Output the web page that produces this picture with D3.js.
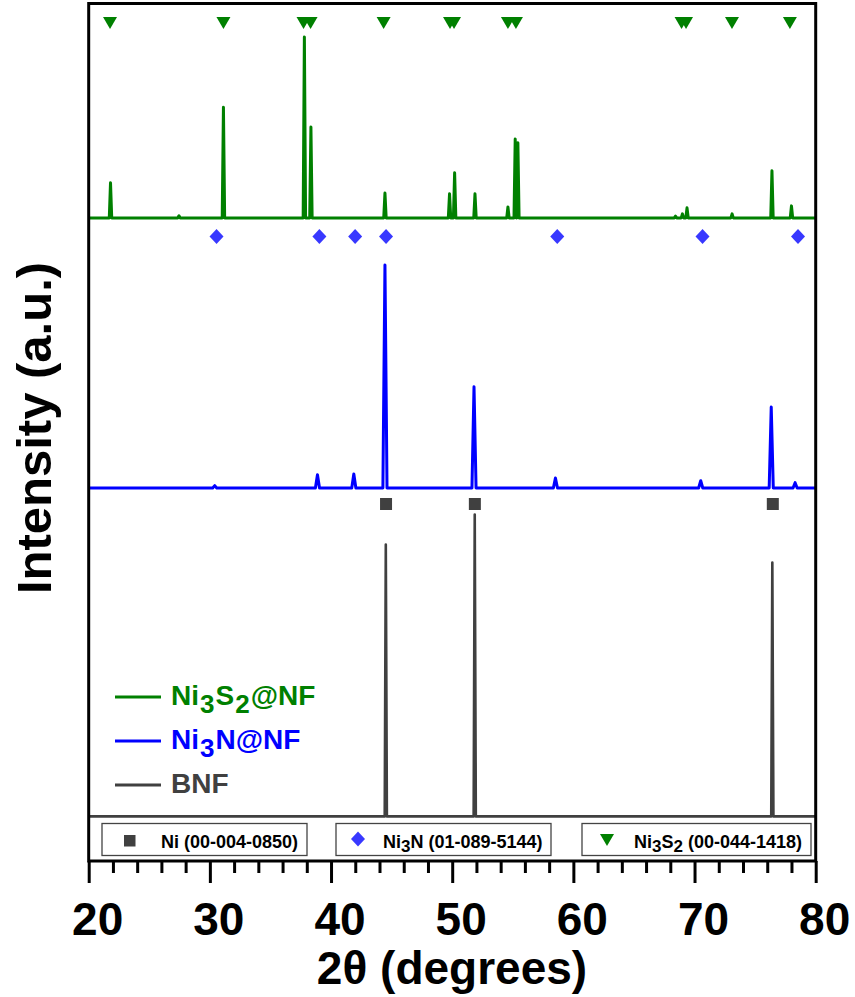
<!DOCTYPE html>
<html>
<head>
<meta charset="utf-8">
<script src="https://cdn.jsdelivr.net/npm/d3@7"></script>
<style>
  body { margin: 0; background: #fff; }
  text { font-family: "Liberation Sans", Arial, Helvetica, sans-serif; font-weight: bold; }
</style>
</head>
<body>
<div id="chart"></div>
<script>
// peak lists: [2theta, intensity above own baseline]
const bnfPeaks = [[44.52, 317], [51.86, 352], [76.42, 296]];
const ni3nPeaks = [
  [30.4, 2.7], [38.88, 15.5], [41.88, 16.3], [44.45, 260], [51.8, 118],
  [58.52, 11.7], [70.51, 8.5], [76.33, 94.5], [78.3, 6.2]
];
const ni3s2Peaks = [
  [21.8, 41], [27.45, 2.3], [31.12, 129], [37.8, 211], [38.34, 106],
  [44.45, 29], [49.78, 28], [50.2, 52.5], [51.88, 28], [54.6, 12.8],
  [55.2, 92], [55.42, 87.5], [68.43, 2], [69.0, 4.7], [69.38, 11.7],
  [73.1, 4.7], [76.39, 55], [78.0, 14]
];
// vertical offsets of the stacked patterns
const offsets = { bnf: 52, ni3n: 435, ni3s2: 750 };

// reference card positions
const niRef = [44.54, 51.87, 76.46];
const ni3nRef = [30.55, 39.04, 41.99, 44.54, 58.67, 70.66, 78.54];
const ni3s2Ref = [21.76, 31.12, 37.73, 38.31, 44.34, 49.82, 50.15, 54.6, 55.26, 68.93, 69.3, 73.09, 77.87];

const xTicks = [20, 30, 40, 50, 60, 70, 80];

var W = 855, H = 997;
var svg = d3.select("#chart").append("svg").attr("width", W).attr("height", H);

var x = d3.scaleLinear().domain([20, 80]).range([88.7, 815.7]);
var y = d3.scaleLinear().domain([0, 1000]).range([861, 3.5]);

// turn a peak list into a polyline (baseline -> top -> baseline per peak)
const profile = (peaks, base, hw) => {
  var pts = [[20, base]];
  peaks.forEach(function (p) {
    pts.push([p[0] - hw, base], [p[0], base + p[1]], [p[0] + hw, base]);
  });
  pts.push([80, base]);
  return pts;
};

var line = d3.line().x((d) => x(d[0])).y((d) => y(d[1]));

var series = [
  { name: "bnf", peaks: bnfPeaks, color: "#404040", width: 2.6, hw: 0.09 },
  { name: "ni3n", peaks: ni3nPeaks, color: "#0000ff", width: 3, hw: 0.17 },
  { name: "ni3s2", peaks: ni3s2Peaks, color: "#008000", width: 3, hw: 0.1 }
];

series.forEach(function (s) {
  svg.append("path")
    .datum(profile(s.peaks, offsets[s.name], s.hw))
    .attr("fill", "none")
    .attr("stroke", s.color)
    .attr("stroke-width", s.width)
    .attr("stroke-linejoin", "round")
    .attr("d", line);
});

// reference markers
svg.append("g").selectAll("rect")
  .data(niRef).enter().append("rect")
  .attr("x", (d) => x(d) - 6).attr("y", 498)
  .attr("width", 12).attr("height", 12)
  .attr("fill", "#404040");

var diamond = "M0,-7.5L7,0L0,7.5L-7,0Z";
svg.append("g").selectAll("path")
  .data(ni3nRef).enter().append("path")
  .attr("d", diamond)
  .attr("transform", (d) => "translate(" + x(d) + ",236.5)")
  .attr("fill", "#3838ff");

var triDown = "M-7,-6L7,-6L0,6Z";
svg.append("g").selectAll("path")
  .data(ni3s2Ref).enter().append("path")
  .attr("d", triDown)
  .attr("transform", (d) => "translate(" + x(d) + ",23)")
  .attr("fill", "#008000");

// x axis: major and minor ticks
var axisG = svg.append("g").attr("transform", "translate(0,861)");
axisG.append("g")
  .call(d3.axisBottom(x).tickValues(xTicks).tickSize(22).tickFormat(""))
  .call((g) => g.select(".domain").remove())
  .selectAll("line").attr("stroke", "#000").attr("stroke-width", 3);
axisG.append("g")
  .call(d3.axisBottom(x)
    .tickValues(d3.range(22, 80, 2).filter((v) => v % 10 != 0))
    .tickSize(12).tickFormat(""))
  .call((g) => g.select(".domain").remove())
  .selectAll("line").attr("stroke", "#000").attr("stroke-width", 3);

svg.append("g").selectAll("text")
  .data(xTicks).enter().append("text")
  .attr("x", (d) => x(d) + 9)
  .attr("y", 935)
  .attr("text-anchor", "middle")
  .attr("font-size", 46)
  .attr("fill", "#000")
  .text((d) => d);

svg.append("text")
  .attr("x", 452).attr("y", 984)
  .attr("text-anchor", "middle")
  .attr("font-size", 46)
  .text("2\u03b8 (degrees)");

svg.append("text")
  .attr("transform", "translate(51,428) rotate(-90)")
  .attr("text-anchor", "middle")
  .attr("font-size", 49)
  .text("Intensity (a.u.)");

// sample legend
var legend = [
  { parts: [["Ni", 0], ["3", 1], ["S", 0], ["2", 1], ["@NF", 0]], color: "#008000", base: 705 },
  { parts: [["Ni", 0], ["3", 1], ["N@NF", 0]], color: "#0000ff", base: 749 },
  { parts: [["BNF", 0]], color: "#404040", base: 793 }
];
legend.forEach(function (l) {
  svg.append("line")
    .attr("x1", 115).attr("x2", 161)
    .attr("y1", l.base - 8).attr("y2", l.base - 8)
    .attr("stroke", l.color).attr("stroke-width", 3);
  var t = svg.append("text").attr("x", 171).attr("y", l.base)
    .attr("font-size", 28).attr("fill", l.color);
  l.parts.forEach(function (p, i) {
    var sp = t.append("tspan").text(p[0]);
    if (p[1]) sp.attr("font-size", 26).attr("dy", 8).attr("dx", 1);
    else if (i > 0) sp.attr("dy", -8).attr("dx", 1);
  });
});

// reference legend boxes
var boxes = [
  { x0: 102, x1: 307, parts: [["Ni (00-004-0850)", 0]], sym: "sq", tx: 161 },
  { x0: 336, x1: 551, parts: [["Ni", 0], ["3", 1], ["N (01-089-5144)", 0]], sym: "di", tx: 383 },
  { x0: 582, x1: 811, parts: [["Ni", 0], ["3", 1], ["S", 0], ["2", 1], [" (00-044-1418)", 0]], sym: "tr", tx: 634 }
];
boxes.forEach(function (b) {
  svg.append("rect")
    .attr("x", b.x0).attr("y", 823.5)
    .attr("width", b.x1 - b.x0).attr("height", 32)
    .attr("fill", "#fff").attr("stroke", "#444").attr("stroke-width", 1.3);
  var sx = b.x0 + (b.sym == "sq" ? 28 : b.sym == "di" ? 22 : 25);
  if (b.sym == "sq") {
    svg.append("rect").attr("x", sx - 6).attr("y", 835).attr("width", 11.5).attr("height", 11.5).attr("fill", "#404040");
  } else if (b.sym == "di") {
    svg.append("path").attr("d", diamond).attr("transform", "translate(" + sx + ",839)").attr("fill", "#3838ff");
  } else {
    svg.append("path").attr("d", triDown).attr("transform", "translate(" + sx + ",840)").attr("fill", "#008000");
  }
  var t = svg.append("text").attr("x", b.tx).attr("y", 847.5)
    .attr("font-size", 18).attr("fill", "#000");
  b.parts.forEach(function (p, i) {
    var sp = t.append("tspan").text(p[0]);
    if (p[1]) sp.attr("font-size", 17).attr("dy", 4);
    else if (i > 0) sp.attr("dy", -4);
  });
});

// frame
svg.append("rect")
  .attr("x", 88.7).attr("y", 3.5)
  .attr("width", 727).attr("height", 857.5)
  .attr("fill", "none").attr("stroke", "#000").attr("stroke-width", 3);
</script>
</body>
</html>
